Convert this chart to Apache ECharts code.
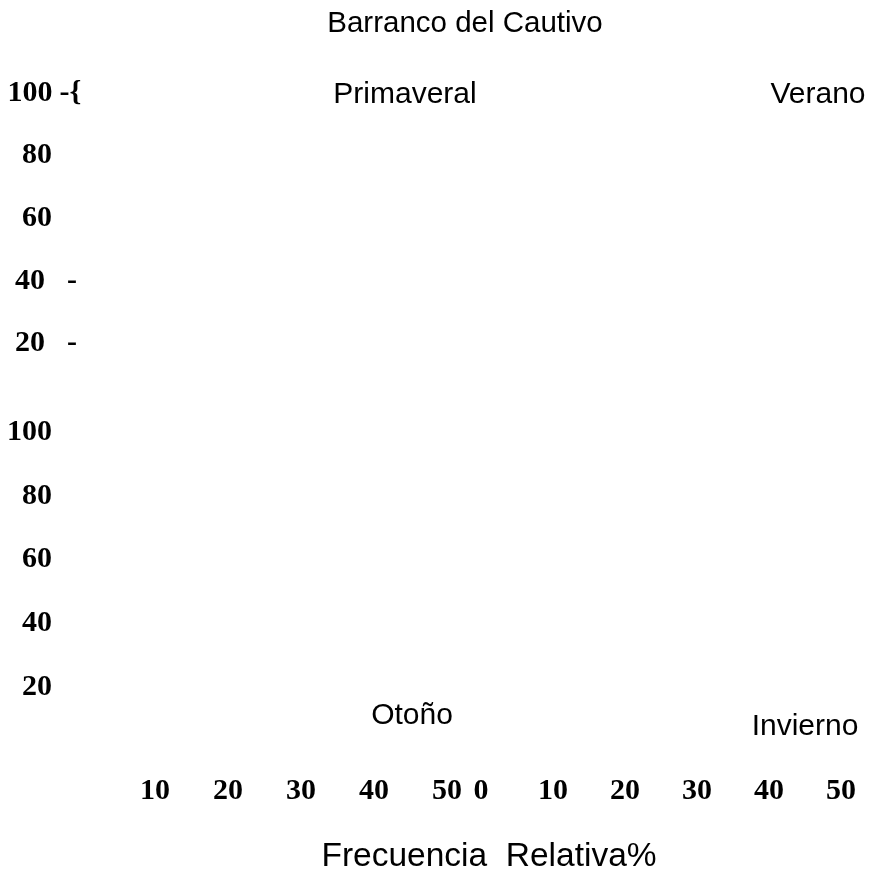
<!DOCTYPE html>
<html>
<head>
<meta charset="utf-8">
<script src="https://cdn.jsdelivr.net/npm/echarts@6/dist/echarts.min.js"></script>
<style>
html, body { margin: 0; padding: 0; background: #fff; }
#main { width: 872px; height: 873px; }
</style>
</head>
<body>
<div id="main"></div>
<script>
var chartTitle = 'Barranco del Cautivo';
var seasons = ['Primaveral', 'Verano', 'Otoño', 'Invierno'];
var xAxisName = 'Frecuencia  Relativa%';
// tick values
var xTicks = [0, 10, 20, 30, 40, 50];
var yTicks = [0, 20, 40, 60, 80, 100];
// stray marks next to some tick labels of the upper panel
var yTickSuffixTop = { 20: '  -', 40: '  -', 100: ' -{' };
// no bars are visible in any panel
var primaveralData = [];
var veranoData = [];
var otonoData = [];
var inviernoData = [];

var serif = 'Liberation Serif';
var sans = 'Liberation Sans';

var chart = echarts.init(document.getElementById('main'));

function yLabel(suffixes) {
    return function (v) {
        if (v === 0) return '';
        var s = suffixes[v] || '';
        return '{n|' + v + '}' + (s ? '{s|' + s + '}' : '');
    };
}

var grids = [
    { left: 82, top: 93, width: 365, height: 313 },
    { left: 481, top: 93, width: 360, height: 313 },
    { left: 82, top: 432, width: 365, height: 319 },
    { left: 481, top: 432, width: 360, height: 319 }
];

var xAxes = [], yAxes = [];
for (var i = 0; i < 4; i++) {
    var bottomRow = i >= 2;
    var leftCol = i % 2 === 0;
    xAxes.push({
        gridIndex: i, type: 'value', min: xTicks[0], max: xTicks[xTicks.length - 1], interval: 10,
        axisLine: { show: false }, axisTick: { show: false }, splitLine: { show: false },
        axisLabel: {
            show: bottomRow, margin: 25,
            fontFamily: serif, fontWeight: 'bold', fontSize: 30, color: '#000',
            formatter: function (leftCol) {
                return function (v) { return (leftCol && v === 0) ? '' : String(v); };
            }(leftCol)
        }
    });
    yAxes.push({
        gridIndex: i, type: 'value', min: yTicks[0], max: yTicks[yTicks.length - 1], interval: 20,
        axisLine: { show: false }, axisTick: { show: false }, splitLine: { show: false },
        axisLabel: {
            show: leftCol, margin: 74, align: 'left',
            formatter: yLabel(i === 0 ? yTickSuffixTop : {}),
            rich: {
                n: { width: 44, align: 'right', fontFamily: serif, fontWeight: 'bold', fontSize: 30, color: '#000' },
                s: { fontFamily: serif, fontWeight: 'bold', fontSize: 30, color: '#000' }
            }
        }
    });
}

var seriesData = [primaveralData, veranoData, otonoData, inviernoData];
var series = seriesData.map(function (d, i) {
    return { name: seasons[i], type: 'bar', xAxisIndex: i, yAxisIndex: i, data: d, itemStyle: { color: '#000' } };
});

function label(text, x, y, size) {
    return {
        text: text, left: x, top: y, textAlign: 'center', padding: 0,
        textStyle: { fontFamily: sans, fontWeight: 'normal', fontSize: size, color: '#000' }
    };
}

option = {
    backgroundColor: '#fff',
    animation: false,
    title: [
        label(chartTitle, 465, 9, 29.5),
        label(seasons[0], 405, 80, 30),
        label(seasons[1], 818, 80, 30),
        label(seasons[2], 412, 701, 30),
        label(seasons[3], 805, 712, 30),
        label(xAxisName, 489, 840, 33.5)
    ],
    grid: grids,
    xAxis: xAxes,
    yAxis: yAxes,
    series: series
};
chart.setOption(option);
</script>
</body>
</html>
